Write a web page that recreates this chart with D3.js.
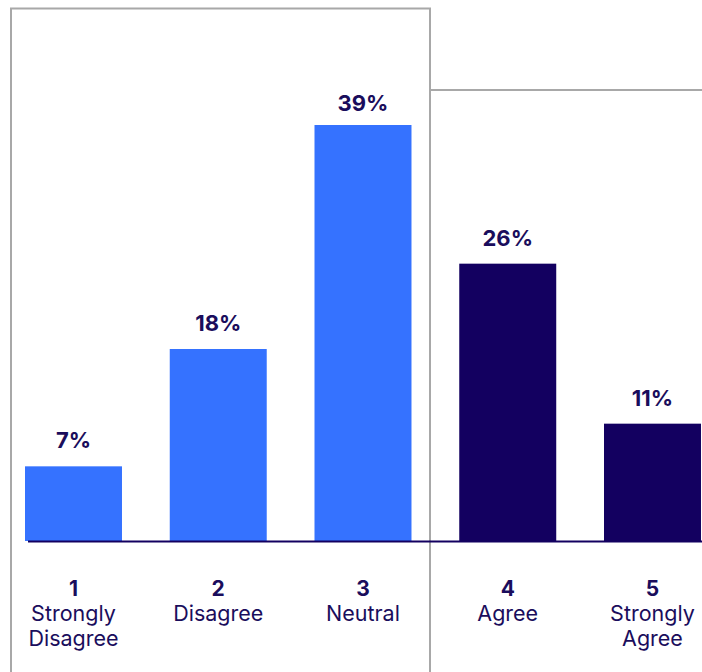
<!DOCTYPE html>
<html><head><meta charset="utf-8">
<script src="https://cdn.jsdelivr.net/npm/d3@7"></script>
<style>body{margin:0;background:#fff}svg{display:block}</style>
</head><body>
<svg id="c" width="702" height="672"></svg>
<script>
const numbers = ["1","2","3","4","5"];
const labels = [["Strongly","Disagree"],["Disagree"],["Neutral"],["Agree"],["Strongly","Agree"]];
const values = [7,18,39,26,11];
const groups = ["disagree","disagree","neutral","agree","agree"];

const svg = d3.select("#c");
const base = 541;
const step = 144.75;
const x = d3.scaleBand().domain(numbers)
  .range([25 - 0.165*step, 25 - 0.165*step + step*5])
  .paddingInner(0.33).paddingOuter(0.165);
const y = d3.scaleLinear().domain([0,39]).range([base,125]);
const color = d3.scaleOrdinal().domain(["disagree","neutral","agree"]).range(["#3572ff","#3572ff","#130060"]);
const textCol = "#1a0d5c";
const font = "Inter, 'Open Sans', sans-serif";

// box lines
const gray = "#a8a8a8";
svg.append("path").attr("d",`M11,672V8.5H430V672`).attr("fill","none").attr("stroke",gray).attr("stroke-width",2);
svg.append("line").attr("x1",431).attr("x2",702).attr("y1",90).attr("y2",90).attr("stroke",gray).attr("stroke-width",2);

// bars
svg.selectAll("rect.bar").data(values).join("rect").attr("class","bar")
  .attr("x",(d,i)=>x(numbers[i])).attr("width",x.bandwidth())
  .attr("y",d=>y(d)).attr("height",d=>base-y(d))
  .attr("fill",(d,i)=>color(groups[i]));

// baseline
svg.append("line").attr("x1",28).attr("x2",702).attr("y1",base+0.5).attr("y2",base+0.5).attr("stroke","#130060").attr("stroke-width",2);

// value labels
svg.selectAll("text.val").data(values).join("text").attr("class","val")
  .attr("x",(d,i)=>x(numbers[i])+x.bandwidth()/2).attr("y",d=>Math.max(y(d)-18, 111))
  .attr("text-anchor","middle").attr("font-family",font).attr("font-weight",700).attr("font-size",22)
  .attr("fill",textCol).text(d=>d+"%");

// category labels
numbers.forEach((n,i)=>{
  const cx = x(n)+x.bandwidth()/2;
  svg.append("text").attr("x",cx).attr("y",596).attr("text-anchor","middle")
    .attr("font-family",font).attr("font-weight",700).attr("font-size",21).attr("fill",textCol).text(n);
  labels[i].forEach((l,j)=>{
    svg.append("text").attr("x",cx).attr("y",621+j*25).attr("text-anchor","middle")
      .attr("font-family",font).attr("font-weight",400).attr("font-size",21.5).attr("fill",textCol).text(l);
  });
});
</script>
</body></html>
